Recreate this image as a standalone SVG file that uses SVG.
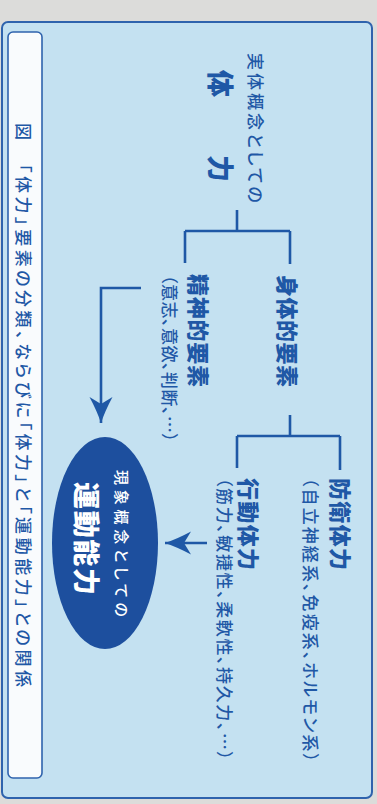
<svg xmlns="http://www.w3.org/2000/svg" width="377" height="804" viewBox="0 0 377 804">
<style>
text{font-family:"Noto Sans CJK JP","Noto Sans CJK SC",sans-serif;fill:#1f58a6;dominant-baseline:central;}
.b{font-weight:900;}
.s{font-size:17px;font-weight:500;font-feature-settings:"palt";}
.w{fill:#ffffff;}
.ln{fill:none;stroke:#1f58a6;stroke-width:2.6;}
</style>
<defs>
<marker id="ah" markerUnits="userSpaceOnUse" viewBox="-27 -13 28 26" refX="0" refY="0" markerWidth="28" markerHeight="26" orient="auto" overflow="visible">
<path d="M0,0 Q-12,-4 -26,-11.5 L-19,0 L-26,11.5 Q-12,4 0,0Z" fill="#1f58a6"/>
</marker>
</defs>
<rect x="0" y="0" width="377" height="804" fill="#dcdcda"/>
<rect x="2" y="22" width="370" height="776" rx="6" fill="#c4e1f1" stroke="#2f63ad" stroke-width="2"/>
<g id="caption">
<rect x="8" y="32" width="34" height="746" rx="5" fill="#f9fbfd" stroke="#2f63ad" stroke-width="1.6"/>
<text class="s" transform="translate(24,123) rotate(90)" textLength="564" lengthAdjust="spacing">図　「体力」要素の分類、ならびに「体力」と「運動能力」との関係</text>
</g>
<g id="connectors">
<path class="ln" d="M237,210 V231 M185,231 H290 M185,231 V263 M290,231 V264"/>
<path class="ln" d="M290,415 V436 M237,436 H340 M237,436 V468 M340,436 V470"/>
<path class="ln" d="M141,288 H101 V423" marker-end="url(#ah)"/>
<path class="ln" d="M207,543 H165" marker-end="url(#ah)"/>
</g>
<g id="tairyoku">
<text class="s" transform="translate(256,53) rotate(90)" textLength="150" lengthAdjust="spacing">実体概念としての</text>
<text class="b" transform="translate(221,70) rotate(90)" font-size="27">体</text>
<text class="b" transform="translate(221,155) rotate(90)" font-size="27">力</text>
</g>
<g id="shintai">
<text class="b" transform="translate(289,275) rotate(90)" font-size="22" textLength="112" lengthAdjust="spacing">身体的要素</text>
</g>
<g id="seishin">
<text class="b" transform="translate(200,274) rotate(90)" font-size="22" textLength="113" lengthAdjust="spacing">精神的要素</text>
<text class="s" transform="translate(170,275) rotate(90)" textLength="167" lengthAdjust="spacing">（意志、意欲、判断、…）</text>
</g>
<g id="bouei">
<text class="b" transform="translate(342,478) rotate(90)" font-size="22" textLength="92" lengthAdjust="spacing">防衛体力</text>
<text class="s" transform="translate(311,478) rotate(90)" textLength="284" lengthAdjust="spacing">（自立神経系、免疫系、ホルモン系）</text>
</g>
<g id="koudou">
<text class="b" transform="translate(250,478) rotate(90)" font-size="22" textLength="92" lengthAdjust="spacing">行動体力</text>
<text class="s" transform="translate(225,478) rotate(90)" textLength="282" lengthAdjust="spacing">（筋力、敏捷性、柔軟性、持久力、…）</text>
</g>
<g id="undou">
<ellipse cx="105" cy="543" rx="53" ry="106" fill="#1d4f9e"/>
<text class="s w" transform="translate(122,470) rotate(90)" style="font-size:15px" textLength="147" lengthAdjust="spacing">現象概念としての</text>
<text class="b w" transform="translate(87,482) rotate(90)" font-size="27" textLength="113" lengthAdjust="spacing">運動能力</text>
</g>
</svg>
